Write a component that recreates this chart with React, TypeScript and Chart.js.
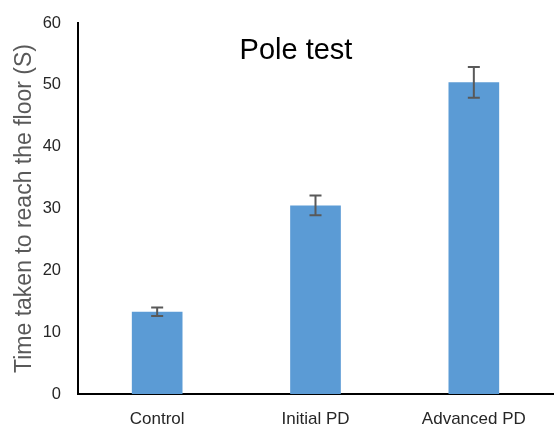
import React, { useEffect, useRef } from "react";
import { Chart, registerables } from "chart.js";

Chart.register(...registerables);

const categories = ["Control", "Initial PD", "Advanced PD"];
const means = [13.3, 30.5, 50.4];
const errors = [0.7, 1.6, 2.5];
const yTicks = [0, 10, 20, 30, 40, 50, 60];
const chartTitle = "Pole test";
const yTitle = "Time taken to reach the floor (S)";

const FONT = "'Liberation Sans', Arial, sans-serif";

const errorBarPlugin = {
  id: "errorBars",
  afterDatasetsDraw(chart: any) {
    const meta = chart.getDatasetMeta(0);
    const y = chart.scales.y;
    const ctx = chart.ctx;
    ctx.save();
    ctx.strokeStyle = "#595959";
    ctx.lineWidth = 2;
    meta.data.forEach((bar: any, i: number) => {
      const x = bar.x;
      const top = y.getPixelForValue(means[i] + errors[i]);
      const bot = y.getPixelForValue(means[i] - errors[i]);
      const cap = 6;
      ctx.beginPath();
      ctx.moveTo(x, top);
      ctx.lineTo(x, bot);
      ctx.moveTo(x - cap, top);
      ctx.lineTo(x + cap, top);
      ctx.moveTo(x - cap, bot);
      ctx.lineTo(x + cap, bot);
      ctx.stroke();
    });
    ctx.restore();
  },
};

const innerTitlePlugin = {
  id: "innerTitle",
  afterDraw(chart: any) {
    const ctx = chart.ctx;
    ctx.save();
    ctx.fillStyle = "#000000";
    ctx.font = `29px ${FONT}`;
    ctx.textAlign = "center";
    ctx.textBaseline = "alphabetic";
    ctx.fillText(chartTitle, 296, 59);
    ctx.restore();
  },
};

export default function App() {
  const ref = useRef<HTMLCanvasElement>(null);
  useEffect(() => {
    if (!ref.current) return;
    const chart = new Chart(ref.current, {
      type: "bar",
      data: {
        labels: categories,
        datasets: [
          {
            data: means,
            backgroundColor: "#5B9BD5",
            borderWidth: 0,
            categoryPercentage: 1,
            barPercentage: 0.32,
          },
        ],
      },
      options: {
        animation: false,
        responsive: false,
        maintainAspectRatio: false,
        layout: { padding: { top: 23, right: 3, bottom: 0, left: 0 } },
        plugins: {
          legend: { display: false },
          tooltip: { enabled: false },
          title: { display: false },
        },
        scales: {
          x: {
            grid: { display: false },
            border: { display: true, color: "#000000", width: 2 },
            ticks: {
              color: "#262626",
              font: { family: FONT, size: 17 },
              padding: 7,
              maxRotation: 0,
            },
            afterFit(scale: any) {
              scale.height = 31;
            },
          },
          y: {
            min: 0,
            max: 60,
            grid: { display: false },
            border: { display: true, color: "#000000", width: 2 },
            afterBuildTicks(scale: any) {
              scale.ticks = yTicks.map((v) => ({ value: v }));
            },
            ticks: {
              color: "#262626",
              font: { family: FONT, size: 16.5 },
              padding: 9,
            },
            title: {
              display: true,
              text: yTitle,
              color: "#595959",
              font: { family: FONT, size: 23 },
              padding: { top: 11, bottom: 0 },
            },
            afterFit(scale: any) {
              scale.width = 78;
            },
          },
        },
      },
      plugins: [errorBarPlugin, innerTitlePlugin],
    });
    return () => chart.destroy();
  }, []);
  return (
    <div style={{ position: "fixed", left: 0, top: 0, width: 556, height: 425, background: "#fff" }}>
      <canvas ref={ref} width={556} height={425} style={{ width: 556, height: 425 }} />
    </div>
  );
}
